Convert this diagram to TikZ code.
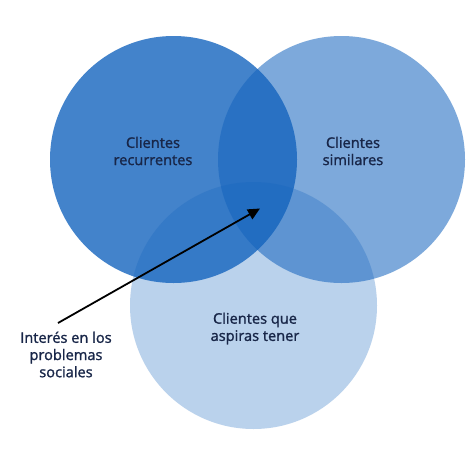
\documentclass[tikz,border=0pt]{standalone}
\usepackage{fontspec}
\newfontfamily\lblfont[BoldFont={Open Sans},BoldFeatures={FakeBold=1.3}]{Open Sans}
\usetikzlibrary{arrows.meta}
\definecolor{basebl}{RGB}{20,100,190}
\definecolor{navy}{RGB}{24,38,72}
\tikzset{
  venn/.style={circle, minimum size=247pt, inner sep=0pt, fill=basebl, draw=none},
  lbl/.style={align=center, text=navy, font=\lblfont\bfseries\fontsize{14.6}{17.2}\selectfont, inner sep=0pt},
  pointer/.style={line width=1.8pt, -{Triangle[length=12pt,width=11pt]}}
}
\begin{document}
\begin{tikzpicture}[x=1pt,y=-1pt]
\useasboundingbox (0,0) rectangle (466,466);
\fill[white] (0,0) rectangle (466,466);
\node[venn, fill opacity=0.8] (rec) at (173.5,159.5) {};
\node[venn, fill opacity=0.55] (sim) at (341.5,159.5) {};
\node[venn, fill opacity=0.29] (asp) at (253.5,305.5) {};
\node[lbl] (trec) at (153,151) {Clientes\\recurrentes};
\node[lbl] (tsim) at (353,151) {Clientes\\similares};
\node[lbl] (tasp) at (255,328.5) {Clientes que\\aspiras tener};
\node[lbl] (tsoc) at (66,354.5) {Interés en los\\problemas\\sociales};
\coordinate (tail) at (58,323);
\coordinate (tip) at (260,208.5);
\draw[pointer] (tail) -- (tip);
\end{tikzpicture}
\end{document}
